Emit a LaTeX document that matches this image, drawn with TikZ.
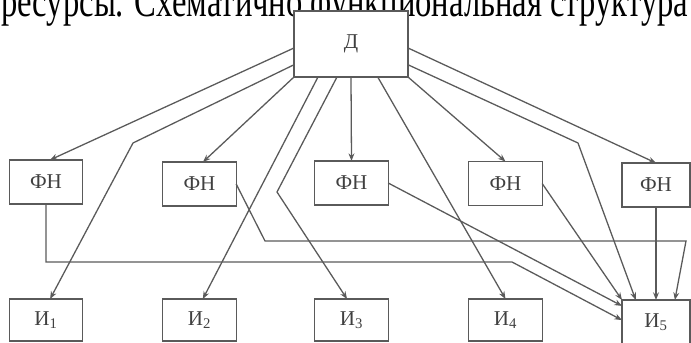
\documentclass[tikz,border=0pt]{standalone}
\usepackage{fontspec}
\setmainfont{Liberation Serif}
\usetikzlibrary{arrows.meta}
\definecolor{linegray}{RGB}{90,90,90}

\begin{document}
\begin{tikzpicture}[x=0.03cm, y=-0.03cm, >={Stealth[length=6.5pt, width=5pt]},
    blk/.style={draw=linegray, line width=1.1pt, outer sep=0pt, inner sep=0pt,
                minimum width=2.2cm, minimum height=1.32cm, text=black!75,
                font=\fontsize{18}{18}\selectfont},
    conn/.style={draw=linegray, line width=1.1pt}]
  \useasboundingbox (0,0) rectangle (691,343);

  % line of page text, cut off at the top
  \node[anchor=base west, inner sep=0pt] (txt) at (1,16.5)
    {\scalebox{1}[1.4]{\resizebox{20.6cm}{!}{ресурсы. Схематично функциональная структура}}};

  % boxes
  \node[blk, fill=white, minimum width=3.42cm, minimum height=1.98cm] (d) at (351,44) {Д};

  \node[blk] (fn1) at (46,182)    {ФН};
  \node[blk] (fn2) at (199.5,184) {ФН};
  \node[blk] (fn3) at (351.5,183) {ФН};
  \node[blk] (fn4) at (505.5,183.5) {ФН};
  \node[blk, minimum width=2.04cm] (fn5) at (656,185) {ФН};

  \node[blk, minimum height=1.26cm] (i1) at (46,320)    {И\textsubscript{1}};
  \node[blk, minimum height=1.26cm] (i2) at (199.5,320) {И\textsubscript{2}};
  \node[blk, minimum height=1.26cm] (i3) at (351.5,320) {И\textsubscript{3}};
  \node[blk, minimum height=1.26cm] (i4) at (505.5,320) {И\textsubscript{4}};
  \node[blk, minimum width=2.04cm, minimum height=1.35cm] (i5) at (656,322.5) {И\textsubscript{5}};

  % from Д
  \draw[conn, ->] (d.184) -- (fn1.80);
  \draw[conn, ->] (d.200) -- (133,143) -- (i1.79);
  \draw[conn, ->] (d.south west) -- (fn2.81);
  \draw[conn, ->] (d.225) -- (i2.81);
  \draw[conn, ->] (d.247) -- (277,192) -- (i3.102);
  \draw[conn, ->] (d.south) -- (fn3.north);
  \draw[conn, ->] (d.309) -- (i4.north);
  \draw[conn, ->] (d.south east) -- (fn4.north);
  \draw[conn, ->] (d.356) -- (fn5.north);
  \draw[conn, ->] (d.340) -- (578,143) -- (i5.132);

  % from ФН to И5
  \draw[conn, ->] (fn1.south) |- (512,262) -- (i5.176);
  \draw[conn, ->] (fn2.east) -- (265,241) -- (686,241) -- (i5.50);
  \draw[conn, ->] (fn3.east) -- (i5.154);
  \draw[conn, ->] (fn4.east) -- (i5.north west);
  \draw[conn, ->] (fn5.south) -- (i5.north);
\end{tikzpicture}
\end{document}
